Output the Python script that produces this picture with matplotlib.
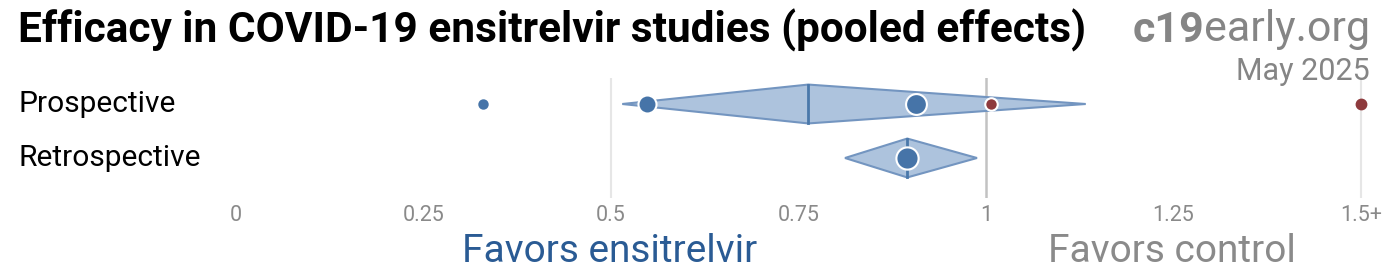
import matplotlib
matplotlib.use("Agg")
import matplotlib.pyplot as plt
from matplotlib.patches import Polygon

plt.rcParams['font.family'] = ['Roboto', 'DejaVu Sans']

# pooled effects per group
groups = ["Prospective", "Retrospective"]
pooled = [0.763, 0.895]
ci_low = [0.515, 0.812]
ci_high = [1.133, 0.988]

# individual studies (row index, relative risk, marker size)
study_row = [0, 0, 0, 0, 0, 1]
study_rr = [0.329, 0.548, 0.907, 1.007, 1.5, 0.895]
study_size = [6, 13, 15, 9, 7, 16]

ticks = [0, 0.25, 0.5, 0.75, 1, 1.25, 1.5]
tick_labels = ["0", "0.25", "0.5", "0.75", "1", "1.25", "1.5+"]

blue_fill = "#adc3dd"
blue_edge = "#7395c0"
blue_dot = "#4674a8"
red_dot = "#8e3a3d"
grey_txt = "#858585"

W, H = 1400, 280
fig = plt.figure(figsize=(14, 2.8), dpi=100)

# axes: x 0 -> 236px, 1 -> 986px ; y from 78px to 198px
x0, xu = 236, 750
ax_top, ax_bot = 78, 198
ax = fig.add_axes([0, (H - ax_bot) / H, 1, (ax_bot - ax_top) / H])
ax.set_xlim(-x0 / xu, (W - x0) / xu)
row_px = 54
ax.set_ylim(1 + (ax_bot - 158) / row_px, -(104 - ax_top) / row_px)
for s in ax.spines.values():
    s.set_visible(False)
ax.set_yticks([])
ax.set_xticks(ticks)
ax.set_xticklabels(tick_labels, fontsize=15.5, color="#8a8a8a")
ax.tick_params(axis='x', length=0, pad=5)

# reference lines
ax.axvline(0.5, color="#e6e6e6", lw=1.5, zorder=0)
ax.axvline(1.0, color="#c2c2c2", lw=1.8, zorder=0)
ax.axvline(1.5, color="#e6e6e6", lw=1.5, zorder=0)

half = 0.36
for i in range(len(groups)):
    pts = [(ci_low[i], i), (pooled[i], i - half), (ci_high[i], i), (pooled[i], i + half)]
    ax.add_patch(Polygon(pts, closed=True, facecolor=blue_fill, edgecolor=blue_edge,
                         lw=1.5, zorder=2))
    ax.plot([pooled[i], pooled[i]], [i - half, i + half], color="#4a78aa", lw=2, zorder=3)
    ax.text(-x0 / xu + 18 / xu, i, groups[i], fontsize=21.5, va='center', ha='left',
            color="black")

for r, v, s in zip(study_row, study_rr, study_size):
    c = blue_dot if v < 1 else red_dot
    ec = "white" if s >= 8 else c
    ax.plot(v, r, 'o', ms=s, color=c, mec=ec, mew=1.5, zorder=4)

# titles and labels
fig.text(18 / W, 1 - 30 / H, "Efficacy in COVID-19 ensitrelvir studies (pooled effects)",
         fontsize=30.5, fontweight='bold', va='center', ha='left', color="black")
t_early = fig.text(1370 / W, 1 - 30 / H, "early.org", fontsize=31, va='center', ha='right',
                   color=grey_txt)
fig.canvas.draw()
bb = t_early.get_window_extent()
fig.text(bb.x0 / W, 1 - 30 / H, "c19", fontsize=31, fontweight='bold', va='center',
         ha='right', color=grey_txt)
fig.text(1370 / W, 1 - 72 / H, "May 2025", fontsize=22, va='center', ha='right',
         color=grey_txt)
fig.text(610 / W, 1 - 251 / H, "Favors ensitrelvir", fontsize=28, va='center',
         ha='center', color="#2a5b94")
fig.text(1172 / W, 1 - 251 / H, "Favors control", fontsize=28, va='center',
         ha='center', color="#8a8a8a")

fig.savefig("out.png", dpi=100)
